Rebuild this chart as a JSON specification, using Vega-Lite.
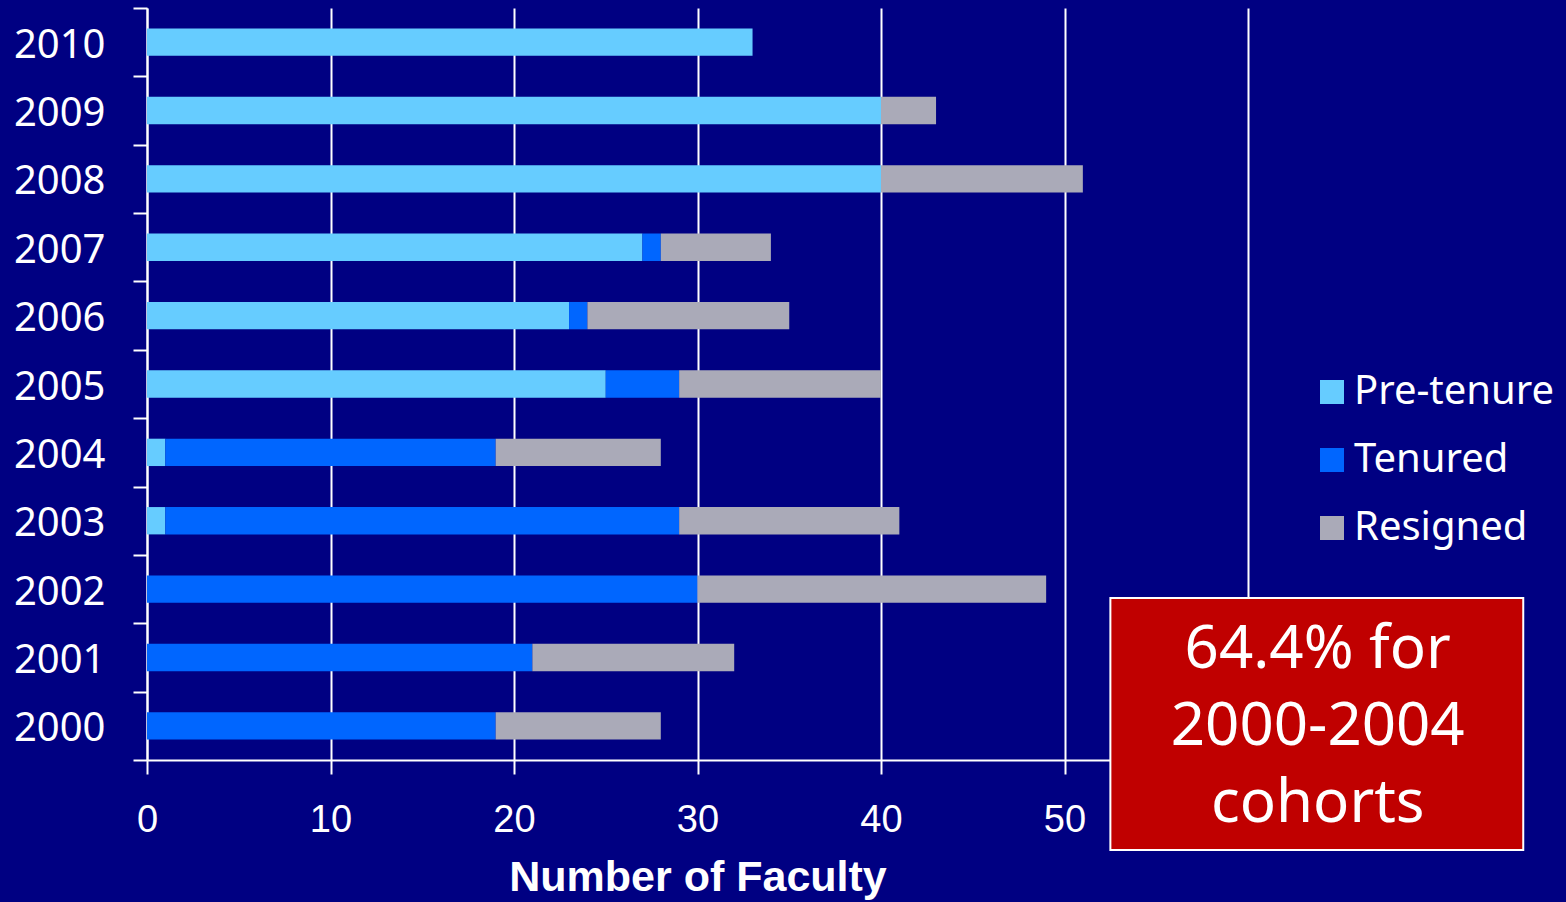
{
  "$schema": "https://vega.github.io/schema/vega-lite/v6.json",
  "width": 1101,
  "height": 752,
  "autosize": {"type": "none"},
  "padding": {"left": 147, "top": 8, "right": 318, "bottom": 142},
  "background": "#000082",
  "config": {
    "view": {"stroke": null},
    "font": "Noto Sans"
  },
  "datasets": {
    "bars": [
      {"year": "2010", "status": "Pre-tenure", "rank": 1, "n": 33},
      {"year": "2009", "status": "Pre-tenure", "rank": 1, "n": 40},
      {"year": "2009", "status": "Resigned", "rank": 3, "n": 3},
      {"year": "2008", "status": "Pre-tenure", "rank": 1, "n": 40},
      {"year": "2008", "status": "Resigned", "rank": 3, "n": 11},
      {"year": "2007", "status": "Pre-tenure", "rank": 1, "n": 27},
      {"year": "2007", "status": "Tenured", "rank": 2, "n": 1},
      {"year": "2007", "status": "Resigned", "rank": 3, "n": 6},
      {"year": "2006", "status": "Pre-tenure", "rank": 1, "n": 23},
      {"year": "2006", "status": "Tenured", "rank": 2, "n": 1},
      {"year": "2006", "status": "Resigned", "rank": 3, "n": 11},
      {"year": "2005", "status": "Pre-tenure", "rank": 1, "n": 25},
      {"year": "2005", "status": "Tenured", "rank": 2, "n": 4},
      {"year": "2005", "status": "Resigned", "rank": 3, "n": 11},
      {"year": "2004", "status": "Pre-tenure", "rank": 1, "n": 1},
      {"year": "2004", "status": "Tenured", "rank": 2, "n": 18},
      {"year": "2004", "status": "Resigned", "rank": 3, "n": 9},
      {"year": "2003", "status": "Pre-tenure", "rank": 1, "n": 1},
      {"year": "2003", "status": "Tenured", "rank": 2, "n": 28},
      {"year": "2003", "status": "Resigned", "rank": 3, "n": 12},
      {"year": "2002", "status": "Tenured", "rank": 2, "n": 30},
      {"year": "2002", "status": "Resigned", "rank": 3, "n": 19},
      {"year": "2001", "status": "Tenured", "rank": 2, "n": 21},
      {"year": "2001", "status": "Resigned", "rank": 3, "n": 11},
      {"year": "2000", "status": "Tenured", "rank": 2, "n": 19},
      {"year": "2000", "status": "Resigned", "rank": 3, "n": 9}
    ],
    "note": [
      {"label": "64.4% for\n2000-2004\ncohorts", "x1": 52.5, "x2": 75.0, "xc": 63.8, "y1": -0.1197, "y2": 0.2154, "yc": 0.1463}
    ]
  },
  "resolve": {"scale": {"y": "independent"}},
  "layer": [
    {
      "data": {"name": "bars"},
      "mark": {"type": "bar", "height": {"band": 0.4}},
      "encoding": {
        "y": {
          "field": "year",
          "type": "nominal",
          "sort": "descending",
          "scale": {"paddingInner": 0, "paddingOuter": 0},
          "axis": {
            "title": null,
            "domainColor": "white",
            "domainWidth": 2,
            "tickColor": "white",
            "tickWidth": 2,
            "tickSize": 14,
            "tickBand": "extent",
            "labelColor": "white",
            "labelFont": "Noto Sans",
            "labelFontSize": 40,
            "labelPadding": 28,
            "labelOffset": 3,
            "grid": false
          }
        },
        "x": {
          "field": "n",
          "type": "quantitative",
          "stack": "zero",
          "scale": {"domain": [0, 60], "nice": false},
          "axis": {
            "values": [0, 10, 20, 30, 40, 50, 60],
            "labelExpr": "datum.value == 60 ? '' : datum.label",
            "labelFlush": false,
            "title": "Number of Faculty",
            "titleColor": "white",
            "titleFont": "Liberation Sans",
            "titleFontWeight": "bold",
            "titleFontSize": 43,
            "titlePadding": 17,
            "domainColor": "white",
            "domainWidth": 2,
            "tickColor": "white",
            "tickWidth": 2,
            "tickSize": 14,
            "grid": true,
            "gridColor": "white",
            "gridWidth": 2,
            "gridOpacity": 1,
            "labelColor": "white",
            "labelFont": "Liberation Sans",
            "labelFontSize": 38,
            "labelPadding": 27
          }
        },
        "color": {
          "field": "status",
          "type": "nominal",
          "scale": {
            "domain": ["Pre-tenure", "Tenured", "Resigned"],
            "range": ["#66ccff", "#0066ff", "#aaaab8"]
          },
          "legend": {
            "title": null,
            "orient": "none",
            "legendX": 1165,
            "legendY": 364,
            "padding": 0,
            "symbolType": "square",
            "symbolSize": 576,
            "symbolStrokeWidth": 0,
            "symbolOpacity": 1,
            "labelColor": "white",
            "labelFont": "Noto Sans",
            "labelFontSize": 40,
            "labelLimit": 400,
            "labelOffset": 2,
            "rowPadding": 28
          }
        },
        "order": {"field": "rank", "type": "quantitative"}
      }
    },
    {
      "data": {"name": "note"},
      "mark": {"type": "rect", "fill": "#c00000", "stroke": "white", "strokeWidth": 2},
      "encoding": {
        "x": {"field": "x1", "type": "quantitative", "scale": {"domain": [0, 60], "nice": false}},
        "x2": {"field": "x2"},
        "y": {"field": "y1", "type": "quantitative", "scale": {"domain": [0, 1], "nice": false, "zero": false}, "axis": null},
        "y2": {"field": "y2"}
      }
    },
    {
      "data": {"name": "note"},
      "mark": {"type": "text", "color": "white", "font": "Noto Sans", "fontSize": 60, "align": "center", "baseline": "middle", "lineBreak": "\n", "lineHeight": 77},
      "encoding": {
        "x": {"field": "xc", "type": "quantitative", "scale": {"domain": [0, 60], "nice": false}},
        "y": {"field": "yc", "type": "quantitative", "scale": {"domain": [0, 1], "nice": false, "zero": false}, "axis": null},
        "text": {"field": "label"}
      }
    }
  ]
}
